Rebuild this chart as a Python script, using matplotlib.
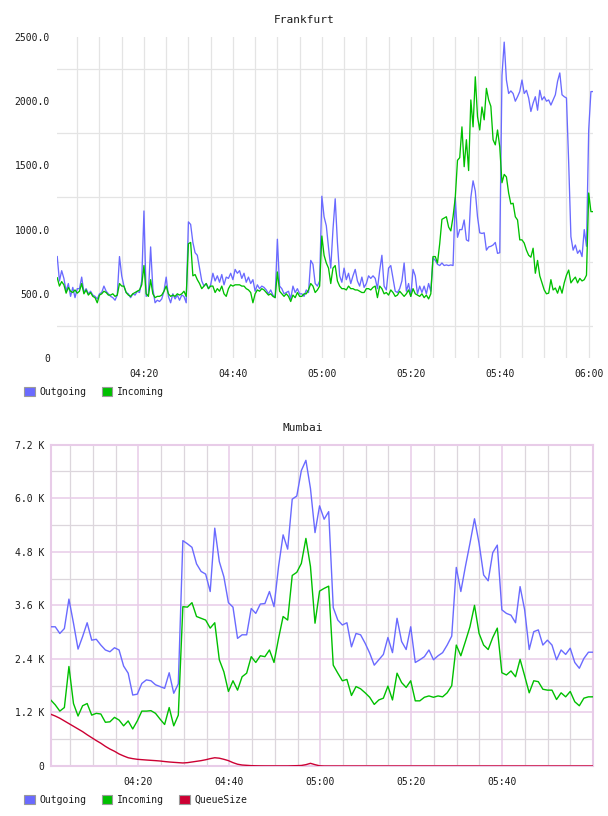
"""
plot.py

Два графика трафика (Frankfurt и Mumbai) в стиле старых веб-дашбордов:
- сверху Outgoing / Incoming с шагом 30 секунд;
- снизу Outgoing / Incoming / QueueSize с шагом около минуты.
Результат сохраняется в out.png.
"""

import matplotlib

matplotlib.use("Agg")

import matplotlib.dates as mdates
import matplotlib.pyplot as plt
import pandas as pd
from matplotlib.patches import Patch

OUTPUT_PATH = "out.png"
DAY = "2015-01-01"
FONT = "DejaVu Sans Mono"

COLOR_OUT = "#6a6aff"
COLOR_IN = "#00c000"
COLOR_QUEUE = "#cc0033"
COLOR_TEXT = "#1a1a1a"
GRID_GRAY = "#e4e4e4"
GRID_GRAY_MUM = "#dcd6dc"
GRID_PURPLE = "#e8cce8"

# --- Frankfurt: 30-second samples, one row = 5 minutes ---
FRA_START = "04:00:30"
FRA_OUT = [
    790, 600, 680, 620, 520, 580, 480, 550, 470, 540,
    540, 630, 510, 540, 500, 520, 490, 480, 460, 500,
    510, 560, 520, 500, 480, 470, 450, 490, 790, 640,
    560, 510, 500, 470, 500, 490, 520, 510, 600, 1145,
    480, 500, 865, 540, 430, 450, 440, 460, 520, 630,
    480, 430, 500, 460, 490, 450, 490, 480, 430, 1060,
    1040, 900, 820, 800, 700, 600, 560, 580, 540, 570,
    660, 600, 640, 590, 650, 570, 630, 620, 660, 610,
    690, 660, 680, 620, 660, 590, 630, 580, 610, 520,
    570, 540, 560, 550, 530, 500, 530, 490, 470, 925,
    560, 540, 500, 510, 520, 460, 560, 510, 540, 500,
    500, 480, 530, 510, 760, 730, 580, 560, 600, 1260,
    1100, 1030, 860, 700, 1000, 1240, 900, 640, 590, 700,
    610, 660, 580, 640, 690, 600, 560, 630, 550, 580,
    640, 620, 640, 620, 540, 680, 800, 560, 530, 700,
    720, 620, 520, 510, 540, 600, 740, 520, 580, 480,
    690, 640, 500, 560, 510, 560, 500, 580, 520, 780,
    760, 730, 720, 740, 720, 725, 720, 725, 720, 1250,
    940, 1000, 1000, 1075, 920, 910, 1250, 1380, 1300, 1100,
    975, 970, 975, 840, 865, 870, 880, 900, 815, 820,
    2200, 2460, 2165, 2060, 2080, 2060, 2000, 2035, 2075, 2165,
    2060, 2085, 2025, 1920, 1985, 2035, 1930, 2085, 2010, 2035,
    2000, 2010, 1970, 2010, 2050, 2155, 2220, 2050, 2035, 2025,
    1520, 945, 840, 880, 815, 840, 790, 1000, 870, 1776,
    2075, 2075,
]
FRA_IN = [
    625, 560, 595, 570, 505, 550, 520, 510, 530, 505,
    520, 580, 500, 530, 490, 510, 480, 470, 430, 490,
    500, 520, 510, 490, 490, 500, 480, 490, 580, 560,
    560, 510, 490, 480, 500, 510, 520, 530, 570, 720,
    500, 480, 610, 500, 470, 480, 480, 490, 520, 560,
    500, 480, 490, 480, 500, 490, 500, 520, 480, 890,
    900, 640, 650, 610, 580, 540, 560, 580, 540, 560,
    560, 510, 540, 520, 560, 500, 480, 540, 570, 560,
    570, 570, 570, 560, 560, 540, 530, 510, 430, 500,
    530, 520, 540, 530, 510, 490, 500, 480, 470, 670,
    520, 500, 480, 500, 480, 440, 490, 470, 510, 480,
    480, 500, 500, 530, 580, 560, 510, 530, 560, 950,
    800, 740, 700, 580, 700, 720, 600, 560, 540, 540,
    530, 560, 540, 540, 530, 530, 520, 510, 510, 540,
    540, 530, 550, 560, 470, 560, 540, 500, 510, 490,
    530, 510, 480, 490, 520, 500, 480, 500, 530, 480,
    540, 500, 490, 480, 500, 470, 490, 460, 500, 790,
    790, 740, 890, 1080, 1090, 1100, 1020, 990, 1100, 1250,
    1540, 1560, 1800, 1490, 1700, 1460, 2010, 1800, 2190, 1880,
    1776, 1955, 1855, 2100, 2010, 1960, 1700, 1660, 1776, 1645,
    1365, 1430, 1410, 1285, 1200, 1205, 1100, 1075, 920, 920,
    895, 840, 800, 785, 855, 660, 760, 640, 585, 530,
    500, 505, 610, 530, 545, 505, 560, 505, 585, 645,
    685, 585, 610, 630, 585, 620, 600, 610, 645, 1285,
    1140, 1140,
]
FRA_XLIM = ["04:00:27", "06:00:58"]
FRA_XTICKS = ["04:20", "04:40", "05:00", "05:20", "05:40", "06:00"]
FRA_YTICKS = [0, 500, 1000, 1500, 2000, 2500]
FRA_YLABELS = ["0", "500.0", "1000.0", "1500.0", "2000.0", "2500.0"]
FRA_YGRID = [250, 750, 1250, 1750, 2250]

# --- Mumbai: ~1-minute samples, one row = 10 samples ---
MUM_START = "04:00:42"
MUM_END = "06:00:00"
MUM_OUT = [
    3120, 3120, 2970, 3080, 3740, 3200, 2620, 2900, 3210, 2820,
    2840, 2710, 2600, 2560, 2650, 2600, 2240, 2080, 1590, 1610,
    1850, 1930, 1910, 1820, 1780, 1740, 2090, 1630, 1840, 5050,
    4980, 4900, 4530, 4360, 4300, 3910, 5330, 4580, 4240, 3660,
    3560, 2860, 2940, 2940, 3530, 3420, 3630, 3640, 3910, 3570,
    4470, 5180, 4860, 5980, 6050, 6620, 6850, 6220, 5230, 5830,
    5530, 5700, 3550, 3270, 3160, 3210, 2670, 2970, 2940, 2750,
    2530, 2260, 2380, 2500, 2880, 2540, 3310, 2790, 2610, 3120,
    2320, 2380, 2450, 2600, 2380, 2470, 2540, 2710, 2910, 4450,
    3910, 4470, 4990, 5540, 4990, 4280, 4150, 4780, 4950, 3500,
    3420, 3380, 3210, 4020, 3500, 2610, 3010, 3050, 2710, 2820,
    2710, 2380, 2600, 2500, 2640, 2320, 2190, 2410, 2550, 2550,
]
MUM_IN = [
    1480, 1370, 1230, 1310, 2230, 1400, 1120, 1350, 1400, 1140,
    1180, 1165, 980, 990, 1090, 1030, 900, 1010, 830, 1010,
    1230, 1230, 1240, 1180, 1050, 930, 1310, 900, 1140, 3570,
    3560, 3660, 3350, 3310, 3270, 3090, 3210, 2380, 2110, 1670,
    1910, 1700, 2000, 2080, 2450, 2320, 2470, 2450, 2600, 2320,
    2860, 3350, 3270, 4270, 4340, 4540, 5100, 4470, 3200, 3920,
    3980, 4030, 2260, 2080, 1910, 1940, 1580, 1780, 1730, 1640,
    1540, 1380, 1480, 1520, 1790, 1480, 2080, 1870, 1760, 1910,
    1460, 1460, 1540, 1570, 1540, 1570, 1550, 1640, 1800, 2710,
    2470, 2790, 3120, 3600, 2970, 2710, 2610, 2880, 3090, 2090,
    2040, 2130, 2000, 2390, 2020, 1640, 1910, 1890, 1720, 1700,
    1700, 1490, 1640, 1550, 1670, 1440, 1350, 1520, 1550, 1550,
]
MUM_QUEUE = [
    1160, 1120, 1070, 1010, 950, 890, 830, 770, 700, 635,
    570, 510, 440, 380, 330, 270, 225, 185, 165, 150,
    142, 134, 127, 120, 112, 100, 90, 82, 75, 68,
    75, 90, 105, 120, 140, 165, 185, 175, 150, 120,
    75, 40, 22, 15, 8, 5, 3, 2, 2, 2,
    2, 2, 2, 5, 8, 12, 30, 60, 30, 5,
    0, 0, 0, 0, 0, 0, 0, 0, 0, 0,
    0, 0, 0, 0, 0, 0, 0, 0, 0, 0,
    0, 0, 0, 0, 0, 0, 0, 0, 0, 0,
    0, 0, 0, 0, 0, 0, 0, 0, 0, 0,
    0, 0, 0, 0, 0, 0, 0, 0, 0, 0,
    0, 0, 0, 0, 0, 0, 0, 0, 0, 0,
]
MUM_XTICKS = ["04:20", "04:40", "05:00", "05:20", "05:40"]
MUM_YTICKS = [0, 1200, 2400, 3600, 4800, 6000, 7200]
MUM_YLABELS = ["0", "1.2 K", "2.4 K", "3.6 K", "4.8 K", "6.0 K", "7.2 K"]
MUM_YMINOR = [600, 1800, 3000, 4200, 5400, 6600]


def ts(hhmm: str) -> pd.Timestamp:
    return pd.Timestamp(f"{DAY} {hhmm}")


def px_box(left, top, right, bottom, width=608, height=816):
    """Прямоугольник в пикселях -> координаты add_axes."""
    return [left / width, 1 - bottom / height, (right - left) / width, (bottom - top) / height]


def style_ticks(ax, ypad, xpad):
    ax.tick_params(which="both", length=0, labelsize=7, colors=COLOR_TEXT)
    ax.tick_params(axis="y", pad=ypad)
    ax.tick_params(axis="x", pad=xpad)
    for label in ax.get_xticklabels() + ax.get_yticklabels():
        label.set_fontfamily(FONT)


def add_legend(fig, labels, colors, x_px, y_px):
    handles = [Patch(facecolor=c, edgecolor="#9a9a9a", linewidth=0.8) for c in colors]
    fig.legend(
        handles, labels,
        loc="center left",
        bbox_to_anchor=(x_px / 608, 1 - y_px / 816),
        ncol=len(labels),
        frameon=False,
        handlelength=1.1,
        handleheight=1.1,
        handletextpad=0.45,
        columnspacing=1.6,
        borderpad=0,
        borderaxespad=0,
        prop={"family": FONT, "size": 7},
        labelcolor=COLOR_TEXT,
    )


def plot_frankfurt(fig):
    ax = fig.add_axes(px_box(57, 37, 593, 358))
    times = pd.date_range(ts(FRA_START), periods=len(FRA_OUT), freq="30s")

    ax.plot(times, FRA_OUT, color=COLOR_OUT, lw=0.95, zorder=3)
    ax.plot(times, FRA_IN, color=COLOR_IN, lw=0.95, zorder=4)

    ax.set_xlim(ts(FRA_XLIM[0]), ts(FRA_XLIM[1]))
    ax.set_ylim(0, 2500)

    ax.set_xticks([ts(t) for t in FRA_XTICKS])
    ax.set_xticklabels(FRA_XTICKS)
    ax.xaxis.set_minor_locator(mdates.MinuteLocator(byminute=range(0, 60, 5)))
    ax.set_yticks(FRA_YTICKS)
    ax.set_yticklabels(FRA_YLABELS)
    ax.set_yticks(FRA_YGRID, minor=True)

    ax.xaxis.grid(True, which="both", color=GRID_GRAY, lw=0.9)
    ax.yaxis.grid(True, which="minor", color=GRID_GRAY, lw=0.9)
    ax.yaxis.grid(False, which="major")
    ax.set_axisbelow(True)

    for spine in ax.spines.values():
        spine.set_visible(False)
    style_ticks(ax, ypad=5, xpad=8)

    fig.text(304 / 608, 1 - 20 / 816, "Frankfurt", ha="center", va="center",
             fontsize=8, family=FONT, color=COLOR_TEXT)
    add_legend(fig, ["Outgoing", "Incoming"], [COLOR_OUT, COLOR_IN], 24, 392)


def plot_mumbai(fig):
    ax = fig.add_axes(px_box(50.7, 444.7, 593, 766))
    times = pd.date_range(ts(MUM_START), ts(MUM_END), periods=len(MUM_OUT))

    ax.plot(times, MUM_OUT, color=COLOR_OUT, lw=1.0, zorder=3)
    ax.plot(times, MUM_IN, color=COLOR_IN, lw=1.0, zorder=4)
    ax.plot(times, MUM_QUEUE, color=COLOR_QUEUE, lw=1.0, zorder=5)

    ax.set_xlim(ts(MUM_START), ts(MUM_END))
    ax.set_ylim(0, 7200)

    ax.set_xticks([ts(t) for t in MUM_XTICKS])
    ax.set_xticklabels(MUM_XTICKS)
    ax.xaxis.set_minor_locator(mdates.MinuteLocator(byminute=range(0, 60, 5)))
    ax.set_yticks(MUM_YTICKS)
    ax.set_yticklabels(MUM_YLABELS)
    ax.set_yticks(MUM_YMINOR, minor=True)

    ax.grid(True, which="minor", color=GRID_GRAY_MUM, lw=0.9, zorder=0)
    ax.grid(True, which="major", color=GRID_PURPLE, lw=1.1, zorder=1)
    ax.set_axisbelow(True)

    for spine in ax.spines.values():
        spine.set_color(GRID_PURPLE)
        spine.set_linewidth(1.5)
    style_ticks(ax, ypad=4.8, xpad=8)

    fig.text(303 / 608, 1 - 428 / 816, "Mumbai", ha="center", va="center",
             fontsize=8, family=FONT, color=COLOR_TEXT)
    add_legend(fig, ["Outgoing", "Incoming", "QueueSize"],
               [COLOR_OUT, COLOR_IN, COLOR_QUEUE], 24, 800)


def main() -> None:
    fig = plt.figure(figsize=(6.08, 8.16), dpi=100)
    fig.patch.set_facecolor("white")

    plot_frankfurt(fig)
    plot_mumbai(fig)

    fig.savefig(OUTPUT_PATH, dpi=100, facecolor="white")
    plt.close(fig)


if __name__ == "__main__":
    main()
